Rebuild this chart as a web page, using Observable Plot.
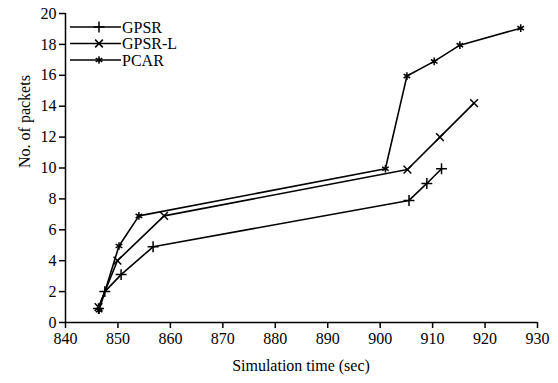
<!DOCTYPE html>
<html>
<head>
<meta charset="utf-8">
<script src="https://cdn.jsdelivr.net/npm/d3@7"></script>
<script src="https://cdn.jsdelivr.net/npm/@observablehq/plot@0.6"></script>
<style>
  html, body { margin: 0; padding: 0; background: #fff; }
  #chart svg, #chart svg text, #chart svg g { font-family: "Liberation Serif", "Times New Roman", serif !important; font-variant: normal !important; font-variant-numeric: normal !important; }
</style>
</head>
<body>
<div id="chart"></div>
<script>
const seriesNames = ["GPSR", "GPSR-L", "PCAR"];
const symbols = ["plus", "times", "asterisk"];

const gpsrTime = [846.3, 847.5, 850.6, 856.7, 905.5, 908.9, 911.7];
const gpsrPackets = [0.9, 2, 3.1, 4.9, 7.9, 9.0, 9.95];

const gpsrLTime = [846.3, 849.9, 858.8, 905.2, 911.4, 917.9];
const gpsrLPackets = [1.0, 4.0, 6.9, 9.9, 12.0, 14.2];

const pcarTime = [846.4, 850.2, 854.0, 901.0, 905.1, 910.3, 915.2, 926.8];
const pcarPackets = [0.8, 4.95, 6.9, 9.95, 15.95, 16.9, 17.95, 19.05];

const xTicks = [840, 850, 860, 870, 880, 890, 900, 910, 920, 930];
const yTicks = [0, 2, 4, 6, 8, 10, 12, 14, 16, 18, 20];

const rows = [];
[[gpsrTime, gpsrPackets], [gpsrLTime, gpsrLPackets], [pcarTime, pcarPackets]].forEach(([ts, ps], i) => {
  ts.forEach((t, j) => rows.push({series: seriesNames[i], time: t, packets: ps[j]}));
});

const serif = "Liberation Serif";
const plot = Plot.plot({
  width: 558,
  height: 383,
  marginLeft: 65,
  marginRight: 21,
  marginTop: 13,
  marginBottom: 61,
  style: {fontFamily: serif, fontSize: "16px", color: "#000", background: "#fff"},
  x: {domain: [840, 930]},
  y: {domain: [0, 20]},
  symbol: {domain: seriesNames, range: symbols},
  marks: [
    Plot.ruleX([840], {stroke: "#000", strokeWidth: 1.5}),
    Plot.ruleY([0], {stroke: "#000", strokeWidth: 1.5}),
    Plot.axisX({ticks: xTicks, tickSize: 6, tickPadding: 4, fontSize: 16, fontFamily: serif, fontVariant: "normal", strokeWidth: 1.5, label: null}),
    Plot.axisY({ticks: yTicks, tickSize: 6, tickPadding: 3, fontSize: 16, fontFamily: serif, fontVariant: "normal", strokeWidth: 1.5, label: null}),
    Plot.text(["No. of packets"], {frameAnchor: "left", rotate: -90, dx: -41, fontSize: 16, fontFamily: serif}),
    Plot.line(rows, {x: "time", y: "packets", z: "series", stroke: "#000", strokeWidth: 1.6}),
    Plot.dot(rows, {x: "time", y: "packets", symbol: "series", stroke: "#000", strokeWidth: 1.5, r: 3.6})
  ]
});

document.getElementById("chart").appendChild(plot);
const svg = d3.select(plot);
svg.selectAll("text, g").attr("font-family", serif).attr("font-variant", null);

// x-axis title below tick labels
svg.append("text").attr("x", 301).attr("y", 366).attr("text-anchor", "middle")
  .attr("font-size", 16).attr("fill", "#000").attr("dy", "0.32em").text("Simulation time (sec)");

// Legend
const legend = svg.append("g").attr("font-size", 16).attr("text-anchor", "start");
const symTypes = [d3.symbolPlus, d3.symbolTimes, d3.symbolAsterisk];
seriesNames.forEach((name, i) => {
  const y = 27 + i * 16.5;
  const g = legend.append("g").attr("transform", `translate(0,${y})`);
  g.append("line").attr("x1", 70).attr("x2", 121).attr("stroke", "#000").attr("stroke-width", 1.6);
  g.append("path").attr("transform", "translate(99,0)")
    .attr("d", d3.symbol().type(symTypes[i]).size(Math.PI * 3.6 * 3.6)())
    .attr("fill", "none").attr("stroke", "#000").attr("stroke-width", 1.5);
  g.append("text").attr("x", 122).attr("dy", "0.35em").attr("fill", "#000").text(name);
});
</script>
</body>
</html>
